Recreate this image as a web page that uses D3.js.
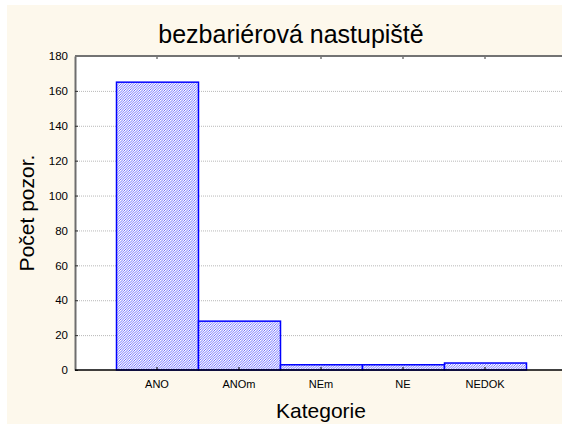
<!DOCTYPE html>
<html>
<head>
<meta charset="utf-8">
<script src="https://cdn.jsdelivr.net/npm/d3@7"></script>
<style>
  html, body { margin: 0; padding: 0; background: #fff; overflow: hidden; }
  svg { display: block; }
  text { font-family: Arial, "Liberation Sans", sans-serif; fill: #000; }
</style>
</head>
<body>
<svg id="chartsvg" width="562" height="424"></svg>
<script>
var vis = d3.select("#chartsvg");
const categories = ["ANO", "ANOm", "NEm", "NE", "NEDOK"];
const counts = [165, 28, 3, 3, 4];
const yTicks = [0, 20, 40, 60, 80, 100, 120, 140, 160, 180];
const titleText = "bezbariérová nastupiště";
const xTitle = "Kategorie";
const yTitle = "Počet pozor.";

// the plot frame runs past the right edge of the picture
const plot = {left: 75, right: 567, top: 56, bottom: 370, frameRight: 620};

// cream background of the graph window
vis.append("rect").attr("x", 7).attr("y", 5)
    .attr("width", 620).attr("height", 424)
    .attr("fill", "#fdf8ec");

// fine diagonal hatch used by the bars
var defs = vis.append("defs");
var pat = defs.append("pattern").attr("id", "hatch")
    .attr("patternUnits", "userSpaceOnUse")
    .attr("width", 2.5).attr("height", 2.5);
pat.append("rect").attr("width", 2.5).attr("height", 2.5).attr("fill", "#ffffff");
pat.append("path").attr("d", "M-1,1 l2,-2 M0,2.5 l2.5,-2.5 M1.5,3.5 l2,-2")
    .attr("stroke", "#4a4aff").attr("stroke-width", 0.8);

var x = d3.scaleBand()
    .domain(categories)
    .range([plot.left, plot.right])
    .paddingInner(0)
    .paddingOuter(0.5);

var y = d3.scaleLinear().domain([0, 180]).range([plot.bottom, plot.top]);

// plot area
vis.append("rect")
    .attr("x", plot.left).attr("y", plot.top)
    .attr("width", plot.frameRight - plot.left).attr("height", plot.bottom - plot.top)
    .attr("fill", "#fff");

// dotted grid
vis.append("g").selectAll("line").data(yTicks.filter(d => d > 0 && d < 180))
    .enter().append("line")
    .attr("x1", plot.left).attr("x2", plot.frameRight)
    .attr("y1", d => y(d) + 0.5).attr("y2", d => y(d) + 0.5)
    .attr("stroke", "#b8b8b8").attr("stroke-width", 1)
    .attr("stroke-dasharray", "1,1");

// bars
vis.append("g").selectAll("rect").data(counts)
    .enter().append("rect")
    .attr("x", (d, i) => x(categories[i]) + 0.5)
    .attr("y", d => y(d))
    .attr("width", x.bandwidth())
    .attr("height", d => y(0) - y(d))
    .attr("fill", "url(#hatch)")
    .attr("stroke", "#0000ff")
    .attr("stroke-width", 1.5);

// y axis (left)
var yAxis = d3.axisLeft(y).tickValues(yTicks).tickSizeInner(-3).tickSizeOuter(0).tickPadding(7);
var yg = vis.append("g").attr("transform", "translate(" + plot.left + ",0)").call(yAxis);
yg.select(".domain").attr("stroke", "#6e6e6e").attr("stroke-width", 2);
yg.selectAll(".tick line").attr("stroke", "#333");
yg.selectAll("text").attr("font-size", 11.5).attr("font-family", "Arial, 'Liberation Sans', sans-serif");

// top axis
var topAxis = d3.axisTop(x).tickSizeInner(-3).tickSizeOuter(0).tickFormat("");
var tg = vis.append("g").attr("transform", "translate(0," + plot.top + ")").call(topAxis);
tg.select(".domain").remove();
tg.append("line").attr("x1", plot.left).attr("x2", plot.frameRight)
    .attr("stroke", "#737373").attr("stroke-width", 2);
tg.selectAll(".tick line").attr("stroke", "#333");

// x axis (bottom)
var xAxis = d3.axisBottom(x).tickSizeInner(-3).tickSizeOuter(0).tickPadding(10);
var xg = vis.append("g").attr("transform", "translate(0," + plot.bottom + ")").call(xAxis);
xg.select(".domain").remove();
xg.append("line").attr("x1", plot.left).attr("x2", plot.frameRight)
    .attr("stroke", "#000").attr("stroke-width", 1.5);
xg.selectAll(".tick line").attr("stroke", "#000");
xg.selectAll("text").attr("font-size", 11).attr("font-family", "Arial, 'Liberation Sans', sans-serif");

// titles
vis.append("text")
    .attr("x", 291).attr("y", 43)
    .attr("text-anchor", "middle")
    .attr("font-size", 25)
    .text(titleText);

vis.append("text")
    .attr("x", (plot.left + plot.right) / 2).attr("y", 418)
    .attr("text-anchor", "middle")
    .attr("font-size", 21)
    .text(xTitle);

vis.append("text")
    .attr("transform", "translate(34,213) rotate(-90)")
    .attr("text-anchor", "middle")
    .attr("font-size", 21)
    .text(yTitle);
</script>
</body>
</html>
